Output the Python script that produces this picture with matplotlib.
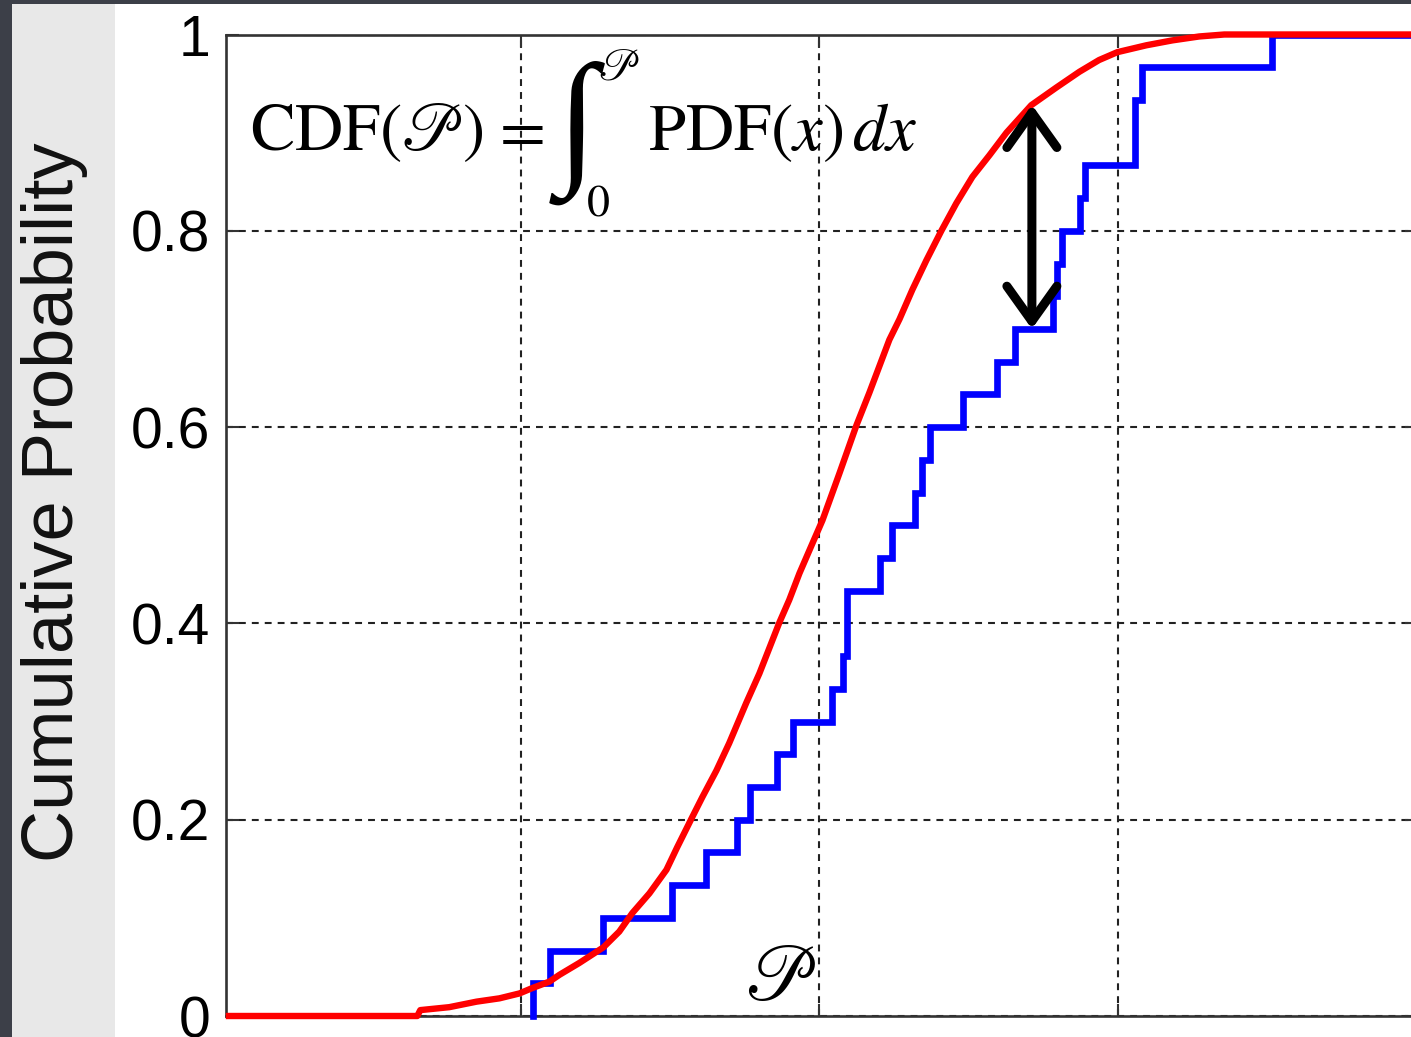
import numpy as np
import matplotlib
matplotlib.use("Agg")
import matplotlib.pyplot as plt
from matplotlib.patches import Rectangle

# Sorted sample values (30 observations) for the empirical CDF
samples = [1.041, 1.098, 1.275, 1.506, 1.620, 1.723, 1.767, 1.858, 1.911, 2.042,
           2.079, 2.092, 2.092, 2.202, 2.242, 2.319, 2.343, 2.370, 2.480, 2.594,
           2.654, 2.782, 2.795, 2.812, 2.872, 2.889, 3.056, 3.056, 3.080, 3.515]

# Theoretical CDF curve
cdf_x = [0.013, 0.654, 0.664, 0.761, 0.852, 0.929, 0.996, 1.039, 1.096, 1.130,
         1.196, 1.277, 1.330, 1.374, 1.431, 1.488, 1.524, 1.571, 1.608, 1.655,
         1.698, 1.755, 1.799, 1.866, 1.899, 1.933, 1.970, 2.010, 2.067, 2.124,
         2.167, 2.234, 2.268, 2.311, 2.358, 2.408, 2.458, 2.512, 2.569, 2.626,
         2.709, 2.793, 2.870, 2.936, 2.997, 3.094, 3.181, 3.271, 3.355, 4.0]
cdf_y = [0.0, 0.0, 0.006, 0.009, 0.0146, 0.018, 0.023, 0.0285, 0.035, 0.042,
         0.054, 0.070, 0.086, 0.105, 0.125, 0.149, 0.172, 0.2007, 0.223, 0.25,
         0.278, 0.319, 0.349, 0.401, 0.424, 0.451, 0.477, 0.505, 0.553, 0.602,
         0.635, 0.689, 0.71, 0.740, 0.770, 0.800, 0.828, 0.855, 0.877, 0.900,
         0.928, 0.946, 0.962, 0.974, 0.982, 0.989, 0.994, 0.998, 1.0, 1.0]

y_ticks = [0, 0.2, 0.4, 0.6, 0.8, 1]
y_tick_labels = ["0", "0.2", "0.4", "0.6", "0.8", "1"]
x_ticks = [1, 2, 3]
gap_at = 2.711  # where the CDF / ECDF gap is marked

plt.rcParams["font.family"] = ["Liberation Sans", "DejaVu Sans"]
plt.rcParams["mathtext.fontset"] = "stix"

W, H = 1411, 1037
fig = plt.figure(figsize=(W / 100, H / 100), dpi=100, facecolor="white")


def fpos(x, y):
    """Figure-fraction position from pixel offsets measured from the top-left."""
    return x / W, 1 - y / H


# frame around the slide area
fig.patches.append(Rectangle((0, 0), 12 / W, 1, transform=fig.transFigure,
                             facecolor="#3c3f48", edgecolor="none", zorder=-2))
fig.patches.append(Rectangle((0, 1 - 4 / H), 1, 4 / H, transform=fig.transFigure,
                             facecolor="#3c3f48", edgecolor="none", zorder=-2))
fig.patches.append(Rectangle((12 / W, 0), (115 - 12) / W, 1 - 4 / H,
                             transform=fig.transFigure, facecolor="#e8e8e8",
                             edgecolor="none", zorder=-2))

ax = fig.add_axes([225.7 / W, 1 - 1016 / H, (1417 - 225.7) / W, (1016 - 34.5) / H])
ax.set_xlim(0.0127, 4.0)
ax.set_ylim(0, 1)

# empirical CDF as a staircase
n = len(samples)
step_x = np.r_[samples[0], samples, 4.0]
step_y = np.r_[0.0, np.arange(1, n + 1) / n, 1.0]
ax.step(step_x, step_y, where="post", color="#0000ff", lw=4.8, zorder=3,
        clip_on=False, solid_joinstyle="miter")

# theoretical CDF
ax.plot(cdf_x, cdf_y, color="#ff0000", lw=4.6, zorder=4, clip_on=False,
        solid_joinstyle="round", solid_capstyle="butt")

# double arrow marking the gap between the two curves
top = np.interp(gap_at, cdf_x, cdf_y)
bottom = np.searchsorted(samples, gap_at, side="right") / n
ax.annotate("", xy=(gap_at, top), xytext=(gap_at, bottom),
            arrowprops=dict(arrowstyle="<->,head_length=0.42,head_width=0.3",
                            mutation_scale=60, lw=6.5, color="black",
                            shrinkA=0, shrinkB=0, capstyle="round",
                            joinstyle="round"),
            zorder=5)

ax.set_xticks(x_ticks)
ax.set_yticks(y_ticks)
ax.set_yticklabels(y_tick_labels)
ax.grid(True, color="#222222", linestyle=(0, (3.3, 2.9)), lw=1.5)
ax.tick_params(direction="in", length=9, width=1.5, color="#333333",
               top=True, right=True, labelbottom=False, labelsize=41, pad=11)
for s in ax.spines.values():
    s.set_linewidth(1.9)
    s.set_color("#333333")

# CDF definition, set piece by piece so the integral can be drawn large
fig.text(*fpos(250, 150), r"$\mathrm{CDF}(\mathscr{P})$", fontsize=48,
         ha="left", va="baseline", zorder=6)
fig.text(*fpos(490, 150), r"$=$", fontsize=48, ha="left", va="baseline", zorder=6)
fig.text(*fpos(577, 133), "\u222b", fontsize=106, ha="center", va="center",
         family=["Liberation Serif", "DejaVu Serif"], zorder=6)
fig.text(*fpos(598, 80), r"$\mathscr{P}$", fontsize=32, ha="left", va="baseline",
         zorder=6)
fig.text(*fpos(586, 216), r"$0$", fontsize=33, ha="left", va="baseline", zorder=6)
fig.text(*fpos(648, 150), r"$\mathrm{PDF}(x)\,dx$", fontsize=48, ha="left",
         va="baseline", zorder=6)

ax.text(1.87, 0.037, r"$\mathscr{P}$", fontsize=56, ha="center", va="center",
        zorder=6)

fig.text(55 / W, 1 - 502 / H, "Cumulative Probability", rotation=90,
         ha="center", va="center", fontsize=52, color="#111111")

fig.savefig("out.png", dpi=100, facecolor=fig.get_facecolor())
